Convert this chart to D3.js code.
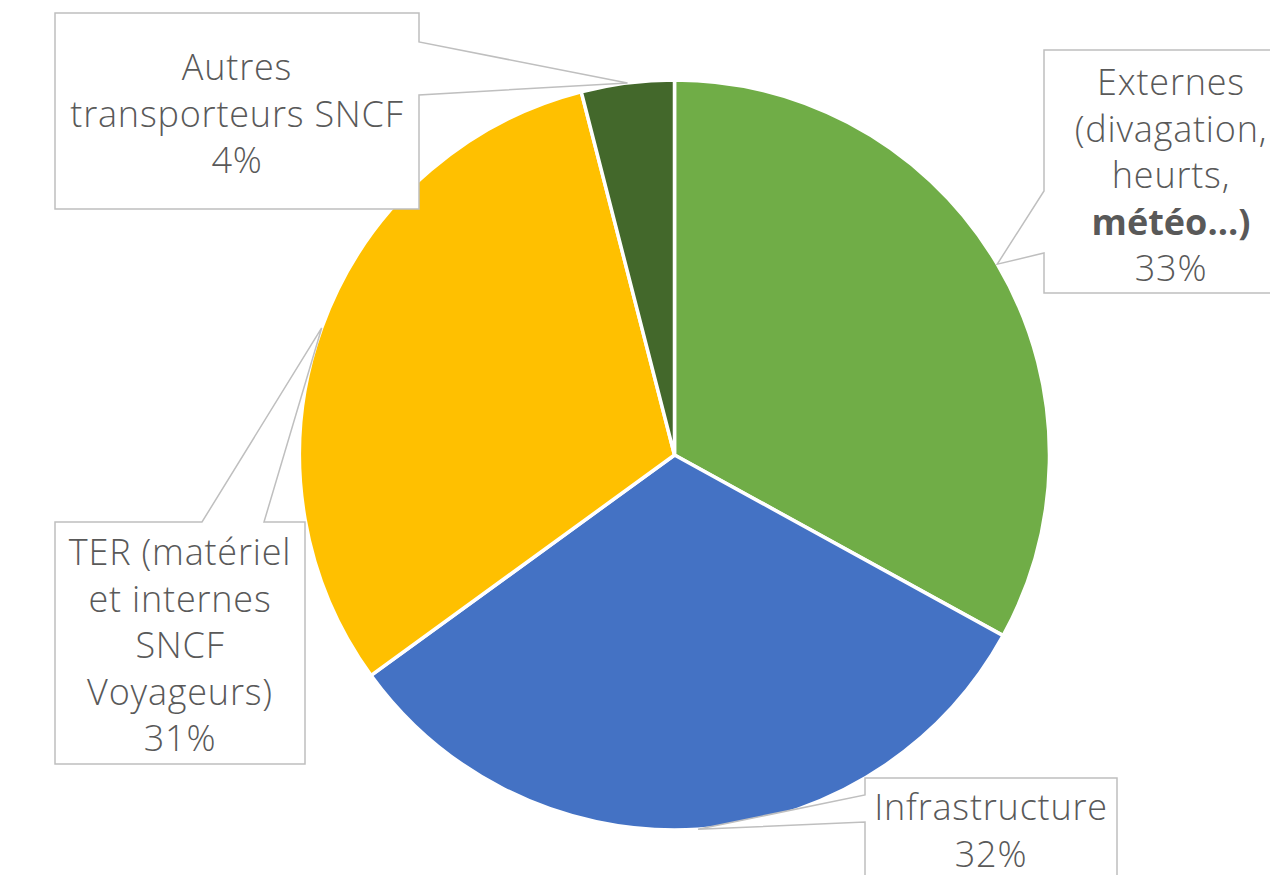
<!DOCTYPE html>
<html>
<head>
<meta charset="utf-8">
<script src="https://cdn.jsdelivr.net/npm/d3@7"></script>
<style>
  html, body { margin: 0; padding: 0; background: #ffffff; }
  svg { display: block; }
</style>
</head>
<body>
<svg id="chart" width="1270" height="875"></svg>
<script>
// ---- data ----
const categories = ["Externes", "Infrastructure", "TER", "Autres transporteurs SNCF"];
const values = [33, 32, 31, 4];
const colors = ["#70ad47", "#4472c4", "#ffc000", "#43682b"];
// label lines: each line is [text, bold]
const labelLines = [
  [["Externes"], ["(divagation,"], ["heurts,"], ["météo…)", true], ["33%"]],
  [["Infrastructure"], ["32%"]],
  [["TER (matériel"], ["et internes"], ["SNCF"], ["Voyageurs)"], ["31%"]],
  [["Autres"], ["transporteurs SNCF"], ["4%"]]
];

// ---- layout ----
const cx = 674.5, cy = 455, R = 375;
// callout boxes: rect + wedge base (two points on an edge)
const boxes = [
  { x0: 1044, y0: 50, x1: 1300, y1: 293, edge: "left", a: 191, b: 253, tx: 1171, ty: 95 },
  { x0: 865, y0: 778, x1: 1117, y1: 900, edge: "left", a: 795, b: 822, tx: 991, ty: 820 },
  { x0: 55, y0: 522, x1: 305, y1: 764, edge: "top", a: 202, b: 264, tx: 180, ty: 565 },
  { x0: 55, y0: 13, x1: 419, y1: 209, edge: "right", a: 42, b: 95, tx: 237, ty: 80 }
];
const lineH = 46.5;
const fontSize = 36;

const svg = d3.select("#chart");
const g = svg.append("g").attr("transform", `translate(${cx},${cy})`);

const pie = d3.pie().sort(null).value(d => d).startAngle(0).endAngle(2 * Math.PI);
const arcs = pie(values);
const arc = d3.arc().innerRadius(0).outerRadius(R);
const tipArc = d3.arc().innerRadius(R).outerRadius(R);

g.selectAll("path.slice").data(arcs).enter().append("path")
  .attr("class", "slice")
  .attr("d", arc)
  .attr("fill", (d, i) => colors[i])
  .attr("stroke", "#ffffff")
  .attr("stroke-width", 3.5)
  .attr("stroke-linejoin", "round");

// callouts
function calloutPath(b, tip) {
  const t = [tip[0] + cx, tip[1] + cy];
  let pts;
  if (b.edge === "left") {
    pts = [[b.x0, b.y0], [b.x1, b.y0], [b.x1, b.y1], [b.x0, b.y1], [b.x0, b.b], t, [b.x0, b.a]];
  } else if (b.edge === "right") {
    pts = [[b.x0, b.y0], [b.x1, b.y0], [b.x1, b.a], t, [b.x1, b.b], [b.x1, b.y1], [b.x0, b.y1]];
  } else { // top
    pts = [[b.x0, b.y0], [b.a, b.y0], t, [b.b, b.y0], [b.x1, b.y0], [b.x1, b.y1], [b.x0, b.y1]];
  }
  return d3.line()(pts) + "Z";
}

const callouts = svg.selectAll("g.callout").data(arcs).enter().append("g").attr("class", "callout");
callouts.append("path")
  .attr("d", (d, i) => calloutPath(boxes[i], tipArc.centroid(d)))
  .attr("fill", "#ffffff")
  .attr("stroke", "#bfbfbf")
  .attr("stroke-width", 1.5)
  .attr("stroke-linejoin", "miter");

callouts.each(function (d, i) {
  const b = boxes[i];
  const t = d3.select(this).append("text")
    .attr("text-anchor", "middle")
    .attr("font-family", "'Open Sans', sans-serif")
    .attr("font-size", fontSize)
    .attr("letter-spacing", 0.8)
    .attr("fill", "#595959");
  labelLines[i].forEach((ln, k) => {
    t.append("tspan")
      .attr("x", b.tx)
      .attr("y", b.ty + k * lineH)
      .attr("font-weight", ln[1] ? 700 : 300)
      .attr("letter-spacing", ln[1] ? 0 : 0.8)
      .text(ln[0]);
  });
});
</script>
</body>
</html>
